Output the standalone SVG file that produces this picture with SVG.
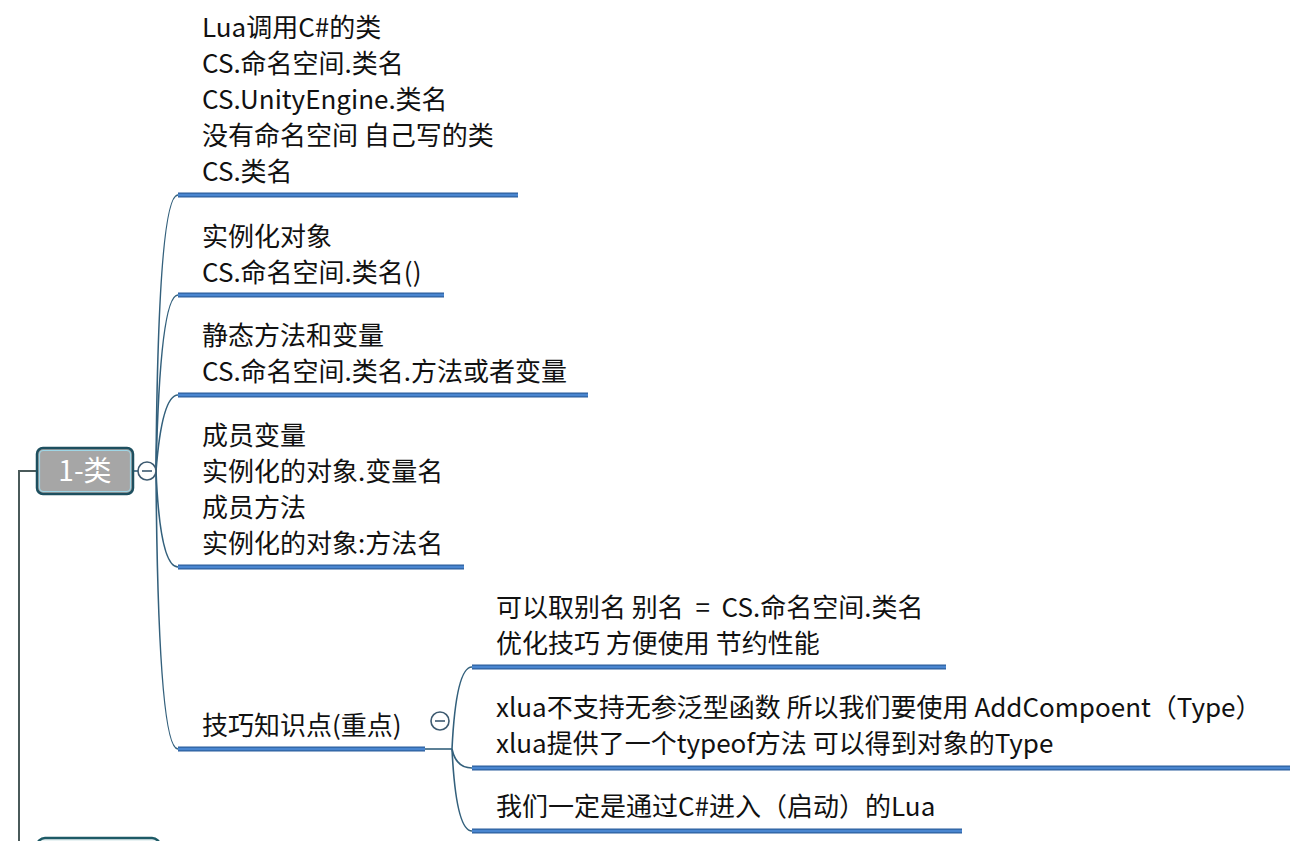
<svg xmlns="http://www.w3.org/2000/svg" width="1310" height="841" viewBox="0 0 1310 841">
<style>
.t{font-family:"Noto Sans CJK SC","Microsoft YaHei",sans-serif;font-size:26px;fill:#111}
.ul{stroke:#2d5f9e;stroke-width:5;stroke-linecap:butt}
.ul2{stroke:#4a86d0;stroke-width:2.4;stroke-linecap:butt}
.c{fill:none;stroke:#33607c;stroke-width:1.6}
.tog{fill:#fff;stroke:#3d5a70;stroke-width:1.6}
</style>
<rect width="1310" height="841" fill="#fff"/>
<g id="connectors">
<path d="M19,841 V471 H37" fill="none" style="stroke:#4a5a5a;stroke-width:2"/>
<path class="c" d="M133,471 H138"/>
<path class="c" d="M156,471 Q158,195 178,195"/>
<path class="c" d="M156,471 Q160,295 178,295"/>
<path class="c" d="M156,471 Q162,395 178,395"/>
<path class="c" d="M156,471 Q160,567 178,567"/>
<path class="c" d="M156,471 Q158,749 178,749"/>
<path class="c" d="M425,749 H452"/>
<path class="c" d="M452,749 Q456,667 472,667"/>
<path class="c" d="M452,749 Q456,768 472,768"/>
<path class="c" d="M452,749 Q456,831 472,831"/>
</g>
<g id="node-root">
<rect x="37" y="448" width="96" height="46" rx="6" fill="#a6a6a6" stroke="#1d4f5f" stroke-width="2.5"/>
<rect x="39.5" y="450.5" width="91" height="41" rx="4" fill="none" stroke="#9fd6e6" stroke-width="1.2"/>
<text x="85" y="481" text-anchor="middle" style="font-family:'Noto Sans CJK SC',sans-serif;font-size:28px;fill:#fff">1-类</text>
<circle class="tog" cx="147" cy="471" r="9"/>
<line x1="142" y1="471" x2="152" y2="471" stroke="#3d5a70" stroke-width="1.6"/>
</g>
<g id="node-next">
<rect x="37" y="838" width="123" height="30" rx="8" fill="#e8f2f3" stroke="#1d5a66" stroke-width="2.5"/>
</g>
<g id="n1">
<text class="t" x="202" y="37">Lua调用C#的类</text>
<text class="t" x="202" y="73">CS.命名空间.类名</text>
<text class="t" x="202" y="109">CS.UnityEngine.类名</text>
<text class="t" x="202" y="145">没有命名空间 自己写的类</text>
<text class="t" x="202" y="181">CS.类名</text>
<line class="ul" x1="178" y1="195" x2="518" y2="195"/><line class="ul2" x1="178" y1="195" x2="518" y2="195"/>
</g>
<g id="n2">
<text class="t" x="202" y="246">实例化对象</text>
<text class="t" x="202" y="282">CS.命名空间.类名()</text>
<line class="ul" x1="178" y1="295" x2="444" y2="295"/><line class="ul2" x1="178" y1="295" x2="444" y2="295"/>
</g>
<g id="n3">
<text class="t" x="202" y="345">静态方法和变量</text>
<text class="t" x="202" y="381">CS.命名空间.类名.方法或者变量</text>
<line class="ul" x1="178" y1="395" x2="588" y2="395"/><line class="ul2" x1="178" y1="395" x2="588" y2="395"/>
</g>
<g id="n4">
<text class="t" x="202" y="445">成员变量</text>
<text class="t" x="202" y="481">实例化的对象.变量名</text>
<text class="t" x="202" y="517">成员方法</text>
<text class="t" x="202" y="553">实例化的对象:方法名</text>
<line class="ul" x1="178" y1="567" x2="464" y2="567"/><line class="ul2" x1="178" y1="567" x2="464" y2="567"/>
</g>
<g id="n5">
<text class="t" x="202" y="735">技巧知识点(重点)</text>
<line class="ul" x1="178" y1="749" x2="425" y2="749"/><line class="ul2" x1="178" y1="749" x2="425" y2="749"/>
<circle class="tog" cx="440" cy="721" r="9"/>
<line x1="435" y1="721" x2="445" y2="721" stroke="#3d5a70" stroke-width="1.6"/>
</g>
<g id="n5a">
<text class="t" x="496" y="617" style="white-space:pre">可以取别名 别名  =  CS.命名空间.类名</text>
<text class="t" x="496" y="653">优化技巧 方便使用 节约性能</text>
<line class="ul" x1="472" y1="667" x2="946" y2="667"/><line class="ul2" x1="472" y1="667" x2="946" y2="667"/>
</g>
<g id="n5b">
<text class="t" x="496" y="717">xlua不支持无参泛型函数 所以我们要使用 AddCompoent（Type）</text>
<text class="t" x="496" y="753">xlua提供了一个typeof方法 可以得到对象的Type</text>
<line class="ul" x1="472" y1="768" x2="1290" y2="768"/><line class="ul2" x1="472" y1="768" x2="1290" y2="768"/>
</g>
<g id="n5c">
<text class="t" x="496" y="816">我们一定是通过C#进入（启动）的Lua</text>
<line class="ul" x1="472" y1="831" x2="962" y2="831"/><line class="ul2" x1="472" y1="831" x2="962" y2="831"/>
</g>
</svg>
